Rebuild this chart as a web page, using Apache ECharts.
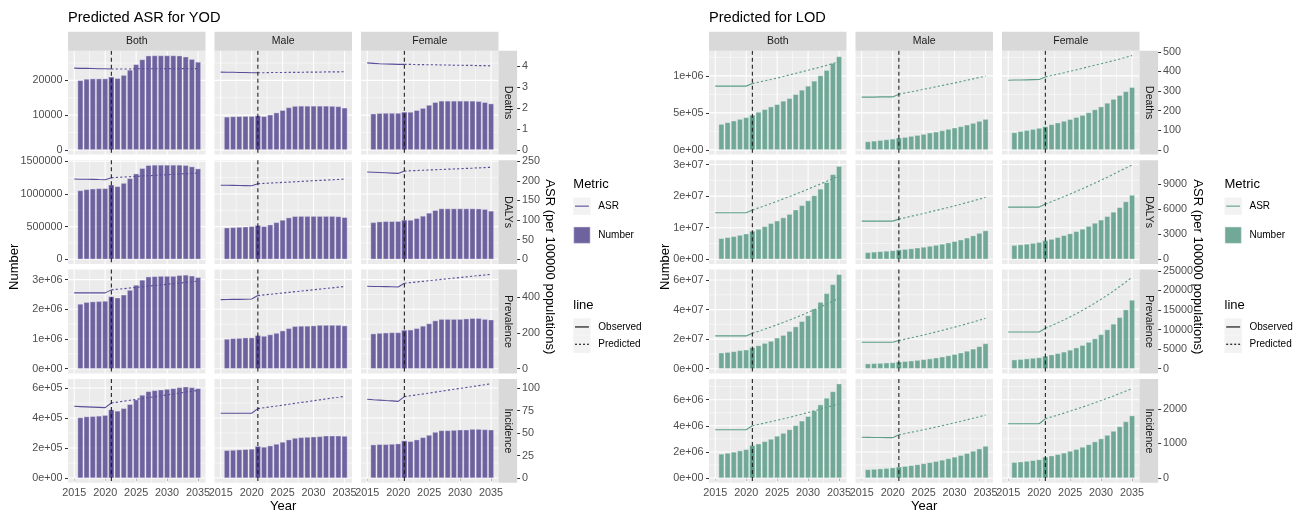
<!DOCTYPE html>
<html>
<head>
<meta charset="utf-8">
<script src="https://cdn.jsdelivr.net/npm/echarts@6.0.0/dist/echarts.min.js"></script>
<style>
html,body{margin:0;padding:0;background:#ffffff;}
#chart{width:1299px;height:513px;}
</style>
</head>
<body>
<div id="chart"></div>
<script>
// ================= DATA =================
const barYears = [2016,2017,2018,2019,2020,2021,2022,2023,2024,2025,2026,2027,2028,2029,2030,2031,2032,2033,2034,2035];
const asrYears = [2015,2016,2017,2018,2019,2020,2021,2022,2023,2024,2025,2026,2027,2028,2029,2030,2031,2032,2033,2034,2035];
const sexes = ['Both','Male','Female'];
const metrics = ['Deaths','DALYs','Prevalence','Incidence'];
const xTicks = [2015,2020,2025,2030,2035];
const xMinor = [2017.5,2022.5,2027.5,2032.5];

// ---- YOD : Number (bars, 2016-2035) ----
const yodDeathsBothN   = [20000,20400,20500,20500,20500,21000,20600,21500,23000,24600,26000,27100,27150,27150,27150,27150,27100,26800,26100,25300];
const yodDeathsMaleN   = [9500,9600,9650,9700,9700,9850,9650,10100,10700,11400,12200,12600,12650,12650,12650,12650,12650,12600,12500,12100];
const yodDeathsFemaleN = [10400,10550,10600,10600,10600,10900,10900,11400,12000,12900,13700,14100,14100,14100,14100,14100,14100,14000,13700,13300];
const yodDalysBothN    = [1053000,1069000,1079000,1084000,1085000,1141000,1115000,1166000,1238000,1310000,1393000,1439000,1444000,1444000,1444000,1444000,1444000,1439000,1418000,1387000];
const yodDalysMaleN    = [483000,488000,493000,498000,504000,519000,504000,529000,565000,601000,637000,658000,660000,660000,660000,660000,660000,660000,655000,642000];
const yodDalysFemaleN  = [565000,576000,581000,581000,582000,601000,601000,627000,663000,709000,750000,776000,776000,776000,776000,776000,776000,774000,766000,740000];
const yodPrevBothN     = [2180000,2240000,2260000,2270000,2280000,2430000,2390000,2490000,2650000,2820000,2990000,3100000,3110000,3120000,3120000,3120000,3150000,3160000,3130000,3080000];
const yodPrevMaleN     = [1000000,1020000,1030000,1045000,1045000,1120000,1100000,1150000,1200000,1280000,1360000,1430000,1440000,1440000,1450000,1470000,1470000,1470000,1470000,1450000];
const yodPrevFemaleN   = [1180000,1200000,1210000,1220000,1220000,1300000,1310000,1360000,1440000,1520000,1620000,1670000,1670000,1670000,1670000,1685000,1700000,1700000,1670000,1650000];
const yodIncBothN      = [403500,410000,412000,414500,419000,456000,447600,465000,491700,522600,553500,577700,584300,588700,593200,597600,604000,608600,604000,597600];
const yodIncMaleN      = [185000,187000,189600,191800,194000,211700,207300,216100,227100,240400,255800,266800,271200,273400,275600,277800,282200,282200,282200,280000];
const yodIncFemaleN    = [222700,225000,225000,227100,229300,249200,244800,255800,271200,286700,306500,317500,317500,319700,322000,322000,326400,326400,324000,322000];

// ---- YOD : ASR (lines, 2015-2035; observed 2015-2021, predicted 2021-2035) ----
const yodDeathsBothA   = [3.92,3.91,3.91,3.90,3.89,3.89,3.88,3.88,3.88,3.88,3.89,3.89,3.89,3.89,3.89,3.90,3.90,3.90,3.90,3.90,3.90];
const yodDeathsMaleA   = [3.73,3.72,3.72,3.71,3.71,3.70,3.70,3.70,3.71,3.71,3.71,3.72,3.72,3.72,3.73,3.73,3.73,3.74,3.74,3.74,3.75];
const yodDeathsFemaleA = [4.17,4.15,4.13,4.12,4.11,4.10,4.10,4.10,4.09,4.09,4.08,4.08,4.07,4.07,4.06,4.06,4.05,4.05,4.04,4.04,4.03];
const yodDalysBothA    = [204.6,204.3,204.0,203.7,203.3,203.0,208.0,208.9,209.7,210.6,211.4,212.3,213.1,214.0,214.9,215.7,216.6,217.4,218.3,219.1,220.0];
const yodDalysMaleA    = [189.0,188.7,188.4,188.1,187.8,187.5,192.6,193.5,194.4,195.2,196.1,196.9,197.8,198.6,199.5,200.3,201.2,202.0,202.9,203.7,204.6];
const yodDalysFemaleA  = [222.6,222.0,221.3,220.6,219.8,219.0,225.0,225.7,226.4,227.1,227.7,228.4,229.1,229.8,230.4,231.1,231.8,232.5,233.2,233.9,234.6];
const yodPrevBothA     = [425.8,425.8,425.8,425.8,425.8,425.8,442.6,446.1,449.6,453.1,456.6,460.1,463.6,467.1,470.6,474.1,477.6,481.1,484.6,488.1,491.6];
const yodPrevMaleA     = [388.0,388.5,389.0,389.5,390.0,391.0,410.6,414.2,417.8,421.5,425.1,428.7,432.4,436.0,439.6,443.3,446.9,450.5,454.1,457.8,461.4];
const yodPrevFemaleA   = [463.0,462.0,461.5,461.0,460.0,459.0,480.0,483.6,487.1,490.7,494.3,497.9,501.4,505.0,508.6,512.1,515.7,519.3,522.9,526.4,530.0];
const yodIncBothA      = [79.7,79.4,79.1,78.8,78.5,78.2,83.4,84.4,85.4,86.4,87.4,88.4,89.4,90.4,91.4,92.4,93.4,94.4,95.4,96.4,97.4];
const yodIncMaleA      = [72.0,72.0,72.0,72.0,72.0,72.0,77.1,78.1,79.1,80.0,81.0,82.0,83.0,84.0,84.9,85.9,86.9,87.9,88.9,89.8,90.8];
const yodIncFemaleA    = [87.5,87.0,86.6,86.1,85.7,85.2,90.4,91.4,92.4,93.4,94.4,95.5,96.5,97.6,98.6,99.6,100.6,101.6,102.7,103.7,104.8];

// ---- LOD : Number ----
const lodDeathsBothN   = [348000,371000,394000,416000,439000,471000,511000,548000,584000,615000,661000,697000,751000,810000,864000,932000,1004000,1077000,1172000,1262000];
const lodDeathsMaleN   = [113000,122000,131000,140000,149000,163000,172000,186000,199000,213000,231000,244000,262000,281000,299000,317000,339000,362000,389000,416000];
const lodDeathsFemaleN = [235000,251000,265000,280000,295000,315000,344000,367000,390000,414000,441000,469000,505000,545000,584000,634000,686000,738000,790000,846000];
const lodDalysBothN    = [6630000,6950000,7260000,7680000,8100000,8950000,9580000,10400000,11400000,12200000,13200000,14300000,15700000,17100000,18600000,20200000,22300000,24400000,26900000,29500000];
const lodDalysMaleN    = [2200000,2350000,2500000,2650000,2800000,3050000,3200000,3400000,3650000,3900000,4200000,4500000,4850000,5250000,5700000,6200000,6800000,7500000,8300000,9100000];
const lodDalysFemaleN  = [4470000,4650000,4860000,5120000,5400000,5950000,6390000,6950000,7580000,8150000,8850000,9600000,10500000,11500000,12500000,13600000,15000000,16450000,18300000,20350000];
const lodPrevBothN     = [10800000,11200000,11700000,12400000,12800000,14400000,15700000,17300000,18700000,20900000,22700000,25400000,28500000,32100000,36000000,40600000,45100000,51000000,57100000,63900000];
const lodPrevMaleN     = [3400000,3600000,3800000,4000000,4200000,4700000,5000000,5400000,5800000,6300000,6800000,7400000,8100000,8900000,9800000,10800000,12000000,13400000,15100000,17100000];
const lodPrevFemaleN   = [6100000,6400000,6800000,7200000,7600000,8600000,9500000,10400000,11400000,12700000,14200000,15900000,18000000,20400000,23200000,26500000,30300000,34800000,40000000,46500000];
const lodIncBothN      = [1850000,1920000,2000000,2100000,2200000,2500000,2630000,2810000,2990000,3220000,3440000,3720000,4030000,4380000,4730000,5160000,5620000,6130000,6630000,7220000];
const lodIncMaleN      = [660000,690000,720000,760000,800000,860000,910000,970000,1040000,1120000,1200000,1290000,1390000,1500000,1620000,1750000,1900000,2070000,2250000,2450000];
const lodIncFemaleN    = [1210000,1250000,1300000,1360000,1420000,1620000,1710000,1820000,1930000,2070000,2210000,2380000,2570000,2790000,3020000,3290000,3600000,3950000,4330000,4780000];

// ---- LOD : ASR ----
const lodDeathsBothA   = [325,325,325,325,325,325,338,345,352,359,366,374,382,390,398,406,414,422,431,440,449];
const lodDeathsMaleA   = [269,269,269,270,270,270,284,290,296,302,309,315,322,328,335,341,348,355,362,369,376];
const lodDeathsFemaleA = [355,356,356,357,358,359,372,379,386,393,401,408,416,424,432,439,447,455,463,472,481];
const lodDalysBothA    = [5560,5560,5560,5560,5560,5560,5880,6140,6400,6670,6940,7220,7500,7790,8080,8380,8690,9000,9320,9640,9960];
const lodDalysMaleA    = [4560,4560,4560,4560,4560,4560,4800,4970,5140,5310,5480,5660,5840,6020,6200,6390,6580,6780,6980,7190,7400];
const lodDalysFemaleA  = [6240,6240,6240,6240,6240,6240,6600,6890,7190,7490,7800,8120,8440,8770,9110,9460,9810,10170,10540,10910,11280];
const lodPrevBothA     = [8380,8380,8380,8380,8380,8380,9060,9580,10110,10660,11230,11820,12430,13060,13710,14380,15070,15780,16510,17260,18030];
const lodPrevMaleA     = [6770,6770,6770,6770,6770,6770,7190,7540,7890,8250,8620,9000,9390,9790,10200,10620,11050,11490,11940,12400,12870];
const lodPrevFemaleA   = [9390,9390,9390,9390,9390,9390,10330,11010,11720,12460,13240,14060,14920,15820,16760,17740,18770,19850,20980,22160,23400];
const lodIncBothA      = [1397,1397,1397,1397,1397,1397,1512,1550,1590,1630,1670,1712,1755,1800,1846,1893,1942,1992,2043,2096,2150];
const lodIncMaleA      = [1177,1175,1173,1171,1169,1167,1254,1288,1323,1359,1396,1434,1473,1513,1554,1596,1639,1683,1728,1773,1818];
const lodIncFemaleA    = [1569,1569,1569,1569,1569,1569,1713,1766,1820,1876,1933,1991,2051,2112,2175,2239,2305,2372,2441,2512,2584];

// ---- tick values / labels ----
const yodDeathsTicks = [0,10000,20000],           yodDeathsLabels = ['0','10000','20000'];
const yodDalysTicks  = [0,500000,1000000,1500000], yodDalysLabels  = ['0','500000','1000000','1500000'];
const yodPrevTicks   = [0,1e6,2e6,3e6],           yodPrevLabels   = ['0e+00','1e+06','2e+06','3e+06'];
const yodIncTicks    = [0,2e5,4e5,6e5],           yodIncLabels    = ['0e+00','2e+05','4e+05','6e+05'];
const yodDeathsRight = [0,1,2,3,4];
const yodDalysRight  = [0,50,100,150,200,250];
const yodPrevRight   = [0,200,400];
const yodIncRight    = [0,25,50,75,100];
const lodDeathsTicks = [0,5e5,1e6],               lodDeathsLabels = ['0e+00','5e+05','1e+06'];
const lodDalysTicks  = [0,1e7,2e7,3e7],           lodDalysLabels  = ['0e+00','1e+07','2e+07','3e+07'];
const lodPrevTicks   = [0,2e7,4e7,6e7],           lodPrevLabels   = ['0e+00','2e+07','4e+07','6e+07'];
const lodIncTicks    = [0,2e6,4e6,6e6],           lodIncLabels    = ['0e+00','2e+06','4e+06','6e+06'];
const lodDeathsRight = [0,100,200,300,400,500];
const lodDalysRight  = [0,3000,6000,9000];
const lodPrevRight   = [0,5000,10000,15000,20000,25000];
const lodIncRight    = [0,1000,2000];

// ================= LAYOUT / STYLE =================
const FONT = '"Liberation Sans", Arial, Helvetica, sans-serif';
const PW = 137.5, GAPX = 9, PH = 103.8, GAPY = 5.6, TOP = 50.8, SW = 18.6;
const XMIN = 2014, XMAX = 2036.2;

const charts = [
  { left: 68, title: 'Predicted ASR for YOD', k: 6000,
    fill: 'rgba(80,66,140,0.82)', border: 'rgba(236,234,246,0.75)', line: '#5A4E9A',
    num: [[yodDeathsBothN,yodDeathsMaleN,yodDeathsFemaleN],[yodDalysBothN,yodDalysMaleN,yodDalysFemaleN],[yodPrevBothN,yodPrevMaleN,yodPrevFemaleN],[yodIncBothN,yodIncMaleN,yodIncFemaleN]],
    asr: [[yodDeathsBothA,yodDeathsMaleA,yodDeathsFemaleA],[yodDalysBothA,yodDalysMaleA,yodDalysFemaleA],[yodPrevBothA,yodPrevMaleA,yodPrevFemaleA],[yodIncBothA,yodIncMaleA,yodIncFemaleA]],
    lt: [yodDeathsTicks,yodDalysTicks,yodPrevTicks,yodIncTicks],
    ll: [yodDeathsLabels,yodDalysLabels,yodPrevLabels,yodIncLabels],
    rt: [yodDeathsRight,yodDalysRight,yodPrevRight,yodIncRight],
    legendX: 573.3, numX: 14, asrX: 549.5 },
  { left: 709, title: 'Predicted for LOD', k: 2650,
    fill: 'rgba(84,151,130,0.82)', border: 'rgba(236,246,242,0.75)', line: '#5C9E88',
    num: [[lodDeathsBothN,lodDeathsMaleN,lodDeathsFemaleN],[lodDalysBothN,lodDalysMaleN,lodDalysFemaleN],[lodPrevBothN,lodPrevMaleN,lodPrevFemaleN],[lodIncBothN,lodIncMaleN,lodIncFemaleN]],
    asr: [[lodDeathsBothA,lodDeathsMaleA,lodDeathsFemaleA],[lodDalysBothA,lodDalysMaleA,lodDalysFemaleA],[lodPrevBothA,lodPrevMaleA,lodPrevFemaleA],[lodIncBothA,lodIncMaleA,lodIncFemaleA]],
    lt: [lodDeathsTicks,lodDalysTicks,lodPrevTicks,lodIncTicks],
    ll: [lodDeathsLabels,lodDalysLabels,lodPrevLabels,lodIncLabels],
    rt: [lodDeathsRight,lodDalysRight,lodPrevRight,lodIncRight],
    legendX: 1224.5, numX: 665, asrX: 1197.5 }
];

function minorOf(ticks, lo, hi) {
  const step = ticks[1] - ticks[0], out = [];
  for (let i = -1; i < ticks.length + 2; i++) {
    const v = ticks[0] + step * i + step / 2;
    if (v > lo && v < hi) out.push(v);
  }
  return out;
}

function gridRender(params, api) {
  const cs = params.coordSys;
  const kind = api.value(2);
  const w = (kind % 2 === 0) ? 1.07 : 0.53;
  let shape;
  if (kind < 2) {
    const px = api.coord([api.value(0), 0])[0];
    shape = { x1: px, y1: cs.y, x2: px, y2: cs.y + cs.height };
  } else {
    const py = api.coord([XMIN, api.value(1)])[1];
    shape = { x1: cs.x, y1: py, x2: cs.x + cs.width, y2: py };
  }
  return { type: 'line', shape: shape, style: { stroke: '#FFFFFF', lineWidth: w }, silent: true };
}
function vlineRender(params, api) {
  const cs = params.coordSys;
  const px = api.coord([api.value(0), 0])[0];
  return { type: 'line', shape: { x1: px, y1: cs.y, x2: px, y2: cs.y + cs.height },
           style: { stroke: '#1A1A1A', lineWidth: 1.05, lineDash: [4, 3] }, silent: true };
}

const grid = [], xAxis = [], yAxis = [], series = [], graphic = [];
const labelStyle = { color: '#4D4D4D', fontSize: 10.8, fontFamily: FONT };

function txt(x, y, text, opt) {
  opt = opt || {};
  graphic.push({ type: 'text', x: x, y: y, rotation: opt.rot || 0, silent: true, z: 10,
    style: { text: text, fill: opt.color || '#000000', fontSize: opt.size || 10.5, fontFamily: FONT,
      align: opt.align || 'left', verticalAlign: 'middle', textAlign: opt.align || 'left', textVerticalAlign: 'middle' } });
}
function rect(x, y, w, h, fill, stroke) {
  graphic.push({ type: 'rect', shape: { x: x, y: y, width: w, height: h }, silent: true, z: 5,
    style: { fill: fill, stroke: stroke || null, lineWidth: stroke ? 0.6 : 0 } });
}
function seg(x1, y1, x2, y2, color, dash) {
  graphic.push({ type: 'line', shape: { x1: x1, y1: y1, x2: x2, y2: y2 }, silent: true, z: 6,
    style: { stroke: color, lineWidth: 1.1, lineDash: dash || null } });
}

charts.forEach(function (P) {
  const pxPerYear = PW / (XMAX - XMIN);
  const BW = 0.9 * pxPerYear;
  metrics.forEach(function (m, r) {
    let M = 0;
    P.num[r].forEach(a => a.forEach(v => { M = Math.max(M, v); }));
    P.asr[r].forEach(a => a.forEach(v => { M = Math.max(M, v * P.k); }));
    const lo = -0.05 * M, hi = 1.05 * M;
    const lt = P.lt[r], ll = P.ll[r], rt = P.rt[r];
    const yMinor = minorOf(lt, lo, hi);
    const top = TOP + r * (PH + GAPY);
    sexes.forEach(function (s, j) {
      const g = grid.length;
      const left = P.left + j * (PW + GAPX);
      grid.push({ left: left, top: top, width: PW, height: PH, show: true, backgroundColor: '#EBEBEB',
                  borderWidth: 0, containLabel: false, outerBoundsMode: 'none' });
      xAxis.push({ gridIndex: g, type: 'value', min: XMIN, max: XMAX,
        axisLine: { show: false }, splitLine: { show: false },
        axisTick: { show: r === 3, length: 3, lineStyle: { color: '#333333', width: 1 }, customValues: xTicks },
        axisLabel: Object.assign({ show: r === 3, customValues: xTicks, margin: 5, hideOverlap: false,
          formatter: v => String(Math.round(v)) }, labelStyle) });
      yAxis.push({ gridIndex: g, type: 'value', position: 'left', min: lo, max: hi,
        axisLine: { show: false }, splitLine: { show: false },
        axisTick: { show: j === 0, length: 3, lineStyle: { color: '#333333', width: 1 }, customValues: lt },
        axisLabel: Object.assign({ show: j === 0, customValues: lt, margin: 5.5,
          formatter: v => { const i = lt.findIndex(t => Math.abs(t - v) < 1e-6 * (Math.abs(t) + 1)); return i >= 0 ? ll[i] : ''; } }, labelStyle) });
      yAxis.push({ gridIndex: g, type: 'value', position: 'right', offset: SW, min: lo / P.k, max: hi / P.k,
        show: j === 2, axisLine: { show: false }, splitLine: { show: false },
        axisTick: { show: j === 2, length: 3, lineStyle: { color: '#333333', width: 1 }, customValues: rt },
        axisLabel: Object.assign({ show: j === 2, customValues: rt, margin: 5,
          formatter: v => String(Math.round(v)) }, labelStyle) });

      const gl = [];
      xTicks.forEach(t => gl.push([t, 0, 0]));
      xMinor.forEach(t => gl.push([t, 0, 1]));
      lt.forEach(t => gl.push([XMIN, t, 2]));
      yMinor.forEach(t => gl.push([XMIN, t, 3]));
      series.push({ type: 'custom', xAxisIndex: g, yAxisIndex: 2 * g, renderItem: gridRender, data: gl, z: 1, silent: true, clip: false });

      const nums = P.num[r][j], asrs = P.asr[r][j];
      const barStyle = { color: P.fill, borderColor: P.border, borderWidth: 0.5 };
      series.push({ type: 'bar', xAxisIndex: g, yAxisIndex: 2 * g, barWidth: BW, barGap: '-100%', z: 2, silent: true,
        data: barYears.slice(0, 6).map((yr, i) => [yr, nums[i]]), itemStyle: barStyle });
      series.push({ type: 'bar', xAxisIndex: g, yAxisIndex: 2 * g, barWidth: BW, barGap: '-100%', z: 2, silent: true,
        data: barYears.slice(5).map((yr, i) => [yr, nums[i + 5]]), itemStyle: barStyle });
      series.push({ type: 'line', xAxisIndex: g, yAxisIndex: 2 * g + 1, symbol: 'none', z: 3, silent: true,
        data: asrYears.slice(0, 7).map((yr, i) => [yr, asrs[i]]), lineStyle: { color: P.line, width: 1.1 } });
      series.push({ type: 'line', xAxisIndex: g, yAxisIndex: 2 * g + 1, symbol: 'none', z: 3, silent: true,
        data: asrYears.slice(6).map((yr, i) => [yr, asrs[i + 6]]), lineStyle: { color: P.line, width: 1.15, type: [2.2, 2.2] } });
      series.push({ type: 'custom', xAxisIndex: g, yAxisIndex: 2 * g, renderItem: vlineRender, data: [[2021, 0]], z: 4, silent: true, clip: false });

      if (r === 0) {
        rect(left, 31.8, PW, 19, '#D9D9D9');
        txt(left + PW / 2, 41.3, s, { align: 'center', color: '#1A1A1A' });
      }
    });
    const sx = P.left + 3 * PW + 2 * GAPX;
    rect(sx, top, SW, PH, '#D9D9D9');
    txt(sx + SW / 2, top + PH / 2, m, { align: 'center', color: '#1A1A1A', rot: -Math.PI / 2 });
  });

  const midY = TOP + (4 * PH + 3 * GAPY) / 2;
  txt(P.left, 17.5, P.title, { size: 14.6 });
  txt(P.left + (3 * PW + 2 * GAPX) / 2, 506, 'Year', { align: 'center', size: 13 });
  txt(P.numX, midY, 'Number', { align: 'center', size: 13, rot: Math.PI / 2 });
  txt(P.asrX, midY, 'ASR (per 100000 populations)', { align: 'center', size: 13, rot: -Math.PI / 2 });

  // legend
  const lx = P.legendX, K = 17.3;
  txt(lx, 184, 'Metric', { size: 13 });
  rect(lx, 197.5, K, K, '#F2F2F2');
  seg(lx + 1.7, 197.5 + K / 2, lx + K - 1.7, 197.5 + K / 2, P.line);
  txt(lx + 25, 206.5, 'ASR', { size: 10 });
  rect(lx, 226.5, K, K, '#F2F2F2');
  rect(lx + 0.5, 227, K - 1, K - 1, P.fill, P.border);
  txt(lx + 25, 235.3, 'Number', { size: 10 });
  txt(lx, 305, 'line', { size: 13 });
  rect(lx, 318.3, K, K, '#F2F2F2');
  seg(lx + 1.7, 318.3 + K / 2, lx + K - 1.7, 318.3 + K / 2, '#000000');
  txt(lx + 25, 327, 'Observed', { size: 10 });
  rect(lx, 335.6, K, K, '#F2F2F2');
  seg(lx + 1.7, 335.6 + K / 2, lx + K - 1.7, 335.6 + K / 2, '#000000', [2, 2]);
  txt(lx + 25, 344.5, 'Predicted', { size: 10 });
});

const chart = echarts.init(document.getElementById('chart'), null, { renderer: 'canvas' });
chart.setOption({
  animation: false,
  backgroundColor: '#FFFFFF',
  textStyle: { fontFamily: FONT },
  grid: grid, xAxis: xAxis, yAxis: yAxis, series: series, graphic: graphic
});
</script>
</body>
</html>
